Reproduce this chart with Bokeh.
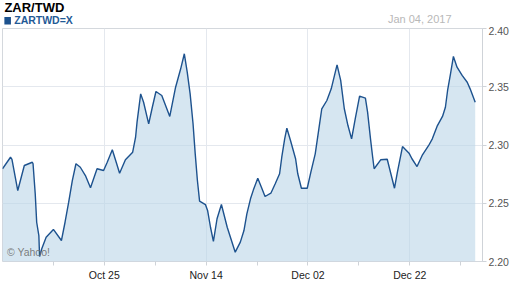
from bokeh.plotting import figure
from bokeh.layouts import column
from bokeh.models import FixedTicker, Label, NumeralTickFormatter, Range1d
from bokeh.core.properties import value
from bokeh.embed import file_html
from bokeh.resources import INLINE

# x = trading session index (0 = Oct 05, 2016 ... 65 = Jan 04, 2017)
session = [0.0, 1.1, 1.3, 2.1, 3.0, 4.1, 4.2, 4.5, 4.7, 5.0, 5.1, 5.4, 6.0, 7.0, 8.1, 8.6,
           9.1, 9.6, 10.1, 10.7, 11.4, 12.1, 13.0, 13.9, 14.4, 15.1, 15.7, 16.1, 16.9, 17.9,
           18.3, 18.5, 19.0, 19.4, 20.1, 20.6, 21.1, 21.9, 23.0, 23.8, 24.5, 25.0, 25.4, 25.8,
           26.2, 26.5, 26.8, 27.1, 27.9, 28.2, 28.6, 29.0, 29.5, 30.1, 30.9, 32.0, 32.7, 33.2,
           33.6, 34.1, 34.5, 35.1, 35.6, 36.1, 36.9, 37.5, 38.1, 38.4, 38.8, 39.1, 39.6, 40.3,
           40.6, 41.1, 41.9, 42.4, 43.0, 43.5, 43.9, 44.6, 45.2, 46.0, 46.5, 47.0, 47.5, 48.0,
           48.5, 49.1, 49.9, 50.2, 50.6, 50.9, 51.1, 52.0, 52.9, 53.4, 53.9, 54.3, 55.0, 55.9,
           56.3, 57.0, 57.7, 58.6, 59.1, 59.8, 60.5, 60.9, 61.2, 61.6, 62.0, 62.5, 63.2, 63.9,
           64.3, 65.0]
rate = [2.2796, 2.2895, 2.2876, 2.2609, 2.2824, 2.2852, 2.2839, 2.2581, 2.2337, 2.2223,
        2.2043, 2.2109, 2.2209, 2.2275, 2.2180, 2.2337, 2.2509, 2.2695, 2.2839, 2.2809,
        2.2738, 2.2633, 2.2796, 2.2781, 2.2852, 2.2959, 2.2839, 2.2758, 2.2873, 2.2938,
        2.3067, 2.3196, 2.3439, 2.3367, 2.3182, 2.3324, 2.3459, 2.3425, 2.3245, 2.3496,
        2.3654, 2.3783, 2.3625, 2.3439, 2.3182, 2.2924, 2.2695, 2.2518, 2.2489, 2.2438,
        2.2294, 2.2172, 2.2367, 2.2489, 2.2294, 2.2080, 2.2166, 2.2266, 2.2409, 2.2538,
        2.2615, 2.2715, 2.2638, 2.2558, 2.2586, 2.2667, 2.2753, 2.2895, 2.3053, 2.3144,
        2.3039, 2.2882, 2.2753, 2.2629, 2.2629, 2.2767, 2.2924, 2.3139, 2.3311, 2.3382,
        2.3482, 2.3688, 2.3554, 2.3311, 2.3167, 2.3053, 2.3225, 2.3419, 2.3402, 2.3282,
        2.3053, 2.2895, 2.2796, 2.2873, 2.2878, 2.2753, 2.2629, 2.2767, 2.2987, 2.2930,
        2.2882, 2.2815, 2.2910, 2.2996, 2.3053, 2.3167, 2.3245, 2.3324, 2.3468, 2.3611,
        2.3760, 2.3668, 2.3597, 2.3539, 2.3482, 2.3367]

tick_sessions = [14, 28, 42, 56]
tick_labels = ["Oct 25", "Nov 14", "Dec 02", "Dec 22"]
minor_sessions = [7, 21, 35, 49, 63]
y_ticks = [2.20, 2.25, 2.30, 2.35, 2.40]
title_text = "ZAR/TWD"
series_name = "ZARTWD=X"
date_text = "Jan 04, 2017"
credit_text = "\u00a9 Yahoo!"

FONT = "Liberation Sans"
BLUE = "#1d528e"

# ---------- header strip (pixel-like coordinates, y downward) ----------
h = figure(width=512, height=26, output_backend="svg", toolbar_location=None,
           title=None, x_range=Range1d(0, 512), y_range=Range1d(26, 0),
           min_border=0, outline_line_color=None)
h.axis.visible = False
h.grid.visible = False
h.background_fill_color = "white"
h.border_fill_color = "white"
h.text(x=[2], y=[6.5], text=[title_text], text_font=value(FONT),
       text_font_size=value("13px"), text_font_style=value("bold"),
       text_color="#000000", text_baseline="middle")
h.quad(left=[2], right=[9], top=[16.5], bottom=[24], fill_color=BLUE, line_color=None)
h.text(x=[12.5], y=[19.8], text=[series_name], text_font=value(FONT),
       text_font_size=value("10.5px"), text_font_style=value("bold"),
       text_color="#1f5a96", text_baseline="middle")
h.text(x=[479], y=[18.6], text=[date_text], text_font=value(FONT),
       text_font_size=value("11px"), text_color="#b8b8b8",
       text_align="right", text_baseline="middle")

# ---------- chart ----------
p = figure(width=512, height=262, output_backend="svg", toolbar_location=None,
           title=None, x_range=Range1d(0, 66), y_range=Range1d(2.20, 2.40),
           y_axis_location="right",
           min_border_left=2, min_border_right=30, min_border_top=2, min_border_bottom=27)
p.background_fill_color = "white"
p.border_fill_color = "white"
p.outline_line_color = "#d4d8dd"

base = [y_ticks[0]] * len(session)
p.varea(x=session, y1=base, y2=rate, fill_color="#bbd5e8", fill_alpha=0.6)
p.line(x=session, y=rate, line_color=BLUE, line_width=1.4)

xa = p.xaxis[0]
xa.ticker = FixedTicker(ticks=tick_sessions, minor_ticks=minor_sessions)
xa.major_label_overrides = {t: l for t, l in zip(tick_sessions, tick_labels)}
xa.major_label_text_font = FONT
xa.major_label_text_font_size = "10.5px"
xa.major_label_text_color = "#222222"
xa.axis_line_color = None
xa.major_tick_line_color = "#cfd3d8"
xa.minor_tick_line_color = "#cfd3d8"
xa.major_tick_out = 4
xa.major_tick_in = 0
xa.minor_tick_out = 4
xa.minor_tick_in = 0
xa.major_label_standoff = 3

ya = p.yaxis[0]
ya.ticker = FixedTicker(ticks=y_ticks, minor_ticks=[])
ya.formatter = NumeralTickFormatter(format="0.00")
ya.major_label_text_font = FONT
ya.major_label_text_font_size = "10.5px"
ya.major_label_text_color = "#555555"
ya.axis_line_color = "#cfd3d8"
ya.major_tick_line_color = "#cfd3d8"
ya.major_tick_out = 4
ya.major_tick_in = 0
ya.minor_tick_out = 0
ya.minor_tick_in = 0
ya.major_label_standoff = 2

p.xgrid.grid_line_color = "#e4e8ee"
p.ygrid.grid_line_color = "#e4e8ee"

p.add_layout(Label(x=4.5, y=9.5, x_units="screen", y_units="screen", text=credit_text,
                   text_font=FONT, text_font_size="10.5px",
                   text_color="#6f6f6f", text_alpha=0.9, text_baseline="middle"))

layout = column(h, p, spacing=0)
open("out.html", "w").write(file_html(layout, INLINE))
